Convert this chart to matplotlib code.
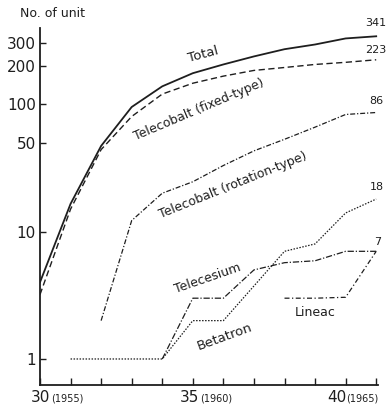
import matplotlib
matplotlib.use("Agg")
import matplotlib.pyplot as plt
import matplotlib.transforms as mtransforms

# values (x = Showa year, 30 = 1955)
total_years = [30, 31, 32, 33, 34, 35, 36, 37, 38, 39, 40, 41]
total_units = [4, 16.5, 47, 95, 138, 175, 205, 237, 270, 294, 328, 341]

fixed_years = [30, 31, 32, 33, 34, 35, 36, 37, 38, 39, 40, 41]
fixed_units = [3.2, 15, 44, 80, 120, 146, 166, 184, 194, 205, 213, 223]

rotation_years = [32, 33, 34, 35, 36, 37, 38, 39, 40, 41]
rotation_units = [2, 12.2, 20, 24.6, 33, 43, 53, 66, 83, 86]

cesium_years = [34, 35, 36, 37, 38, 39, 40, 41]
cesium_units = [1, 3, 3, 5, 5.7, 5.9, 7, 7]

betatron_years = [31, 32, 33, 34, 35, 36, 38, 39, 40, 41]
betatron_units = [1, 1, 1, 1, 2, 2, 7, 8, 14, 18]

lineac_years = [38, 39, 40, 41]
lineac_units = [3, 3, 3.05, 7]

ytick_values = [1, 10, 50, 100, 200, 300]
ytick_labels = ["1", "10", "50", "100", "200", "300"]
xlabel_years = [30, 35, 40]
xlabel_calendar = ["(1955)", "(1960)", "(1965)"]

ink = "#1e1e1e"

fig = plt.figure(figsize=(3.89, 4.08), dpi=100)
ax = fig.add_axes([0.1028, 0.0564, 0.869, 0.8746])

ax.plot(total_years, total_units, color=ink, lw=1.3, ls="-")
ax.plot(fixed_years, fixed_units, color=ink, lw=1.0, ls=(0, (4.5, 2.5)))
ax.plot(rotation_years, rotation_units, color=ink, lw=0.9, ls=(0, (4, 1.5, 1, 1.5)))
ax.plot(cesium_years, cesium_units, color=ink, lw=0.9, ls=(0, (5, 1.5, 1, 1.5)))
ax.plot(betatron_years, betatron_units, color=ink, lw=0.9, ls=(0, (1.2, 1.2)))
ax.plot(lineac_years, lineac_units, color=ink, lw=0.9, ls=(0, (4, 2, 1, 2)))

ax.set_yscale("log")
ax.set_xlim(30, 41.06)
ax.set_ylim(0.625, 395)

for side in ["top", "right"]:
    ax.spines[side].set_visible(False)
for side in ["left", "bottom"]:
    ax.spines[side].set_linewidth(1.3)
    ax.spines[side].set_color(ink)

ax.yaxis.set_minor_locator(matplotlib.ticker.NullLocator())
ax.set_yticks(ytick_values)
ax.set_yticklabels(ytick_labels, fontsize=11, color=ink)
ax.tick_params(axis="y", direction="in", length=4, width=1, pad=3, colors=ink)

ax.set_xticks(range(30, 42))
ax.set_xticklabels([])
ax.tick_params(axis="x", direction="in", length=5, width=1, colors=ink)

# x labels: Showa year with calendar year
trans = mtransforms.blended_transform_factory(ax.transData, fig.transFigure)
num_shift = [0.03, -0.1, -0.3]
for yr, cal, s in zip(xlabel_years, xlabel_calendar, num_shift):
    ax.text(yr + s, 0.015, str(yr), transform=trans, ha="center", va="baseline",
            fontsize=11, color=ink)
    ax.text(yr + s + 0.33, 0.015, cal, transform=trans, ha="left", va="baseline",
            fontsize=7, color=ink)

fig.text(0.134, 0.966, "No. of unit", ha="center", va="center", fontsize=9, color=ink)

# series labels
ax.text(35.34, 247, "Total", rotation=15, ha="center", va="center", fontsize=9.5, color=ink)
ax.text(35.2, 90, "Telecobalt (fixed-type)", rotation=23, ha="center", va="center",
        fontsize=9, color=ink)
ax.text(36.32, 23.2, "Telecobalt (rotation-type)", rotation=22, ha="center", va="center",
        fontsize=9, color=ink)
ax.text(35.47, 4.32, "Telecesium", rotation=19, ha="center", va="center", fontsize=9, color=ink)
ax.text(36.06, 1.49, "Betatron", rotation=20, ha="center", va="center", fontsize=9.5, color=ink)
ax.text(39.0, 2.3, "Lineac", ha="center", va="center", fontsize=9, color=ink)

# end values
ends = [("341", 40.97, 432), ("223", 40.97, 265), ("86", 41.02, 105),
        ("18", 41.02, 22.3), ("7", 41.06, 8.3)]
for txt, xx, yy in ends:
    ax.text(xx, yy, txt, ha="center", va="center", fontsize=8, color=ink, clip_on=False)

fig.savefig("out.png", dpi=100)
